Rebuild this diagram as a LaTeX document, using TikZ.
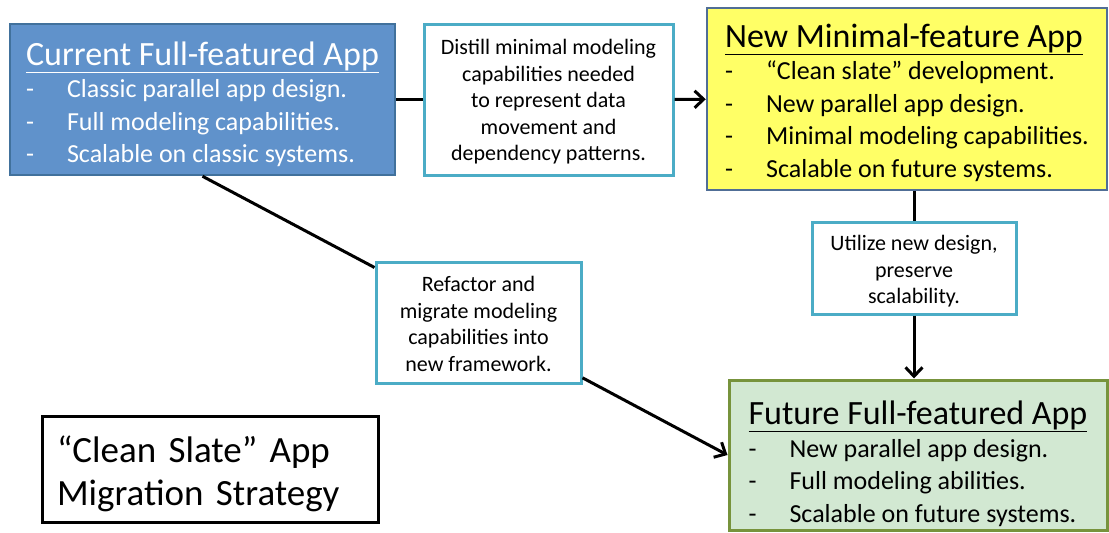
\documentclass[tikz,border=0pt]{standalone}
\usepackage{fontspec}
\setmainfont{Carlito}
\usepackage{tikz}
\usetikzlibrary{arrows.meta, positioning, calc}
\definecolor{currentcolor}{RGB}{96, 146, 203}
\definecolor{currentline}{RGB}{65, 113, 156}
\definecolor{newcolor}{RGB}{255, 255, 102}
\definecolor{newline}{RGB}{80, 110, 150}
\definecolor{futurecolor}{RGB}{210, 232, 210}
\definecolor{futureline}{RGB}{119, 147, 60}
\definecolor{stepline}{RGB}{75, 172, 198}
\newcommand{\dashitem}[1]{\makebox[41pt][l]{-}#1}
% #1: extra room above the title, #2: title text
\newcommand{\apptitle}[2]{{\fontsize{34}{38}\selectfont\rule{0pt}{#1}\underline{#2}}}

\begin{document}
\begin{tikzpicture}[
    x=1pt, y=-1pt,
    appbox/.style={rectangle, line width=2.5pt, align=left, inner sep=0pt,
                   font=\fontsize{26}{32.5}\selectfont},
    stepbox/.style={rectangle, draw=stepline, fill=white, line width=3pt, align=center,
                    inner sep=0pt, font=\fontsize{22}{26.5}\selectfont},
    link/.style={line width=3pt, black},
    linkarrow/.style={link, -{Straight Barb[length=9pt, width=17pt, line width=3pt]}}
]
\useasboundingbox (0,0) rectangle (1109,533);

% App boxes
\node[appbox, fill=currentcolor, draw=currentline, text=white,
      minimum width=385, minimum height=151] (current) at (202.5,99.5)
  {\apptitle{33pt}{Current Full-featured App}\\
   \dashitem{Classic parallel app design.}\\
   \dashitem{Full modeling capabilities.}\\
   \dashitem{Scalable on classic systems.}};

\node[appbox, fill=newcolor, draw=newline,
      minimum width=400, minimum height=182] (new) at (907,99)
  {\apptitle{31pt}{New Minimal-feature App}\\
   \dashitem{``Clean slate'' development.}\\
   \dashitem{New parallel app design.}\\
   \dashitem{Minimal modeling capabilities.}\\
   \dashitem{Scalable on future systems.}};

\node[appbox, fill=futurecolor, draw=futureline, line width=3pt,
      minimum width=378, minimum height=150] (future) at (918,455)
  {\apptitle{41pt}{Future Full-featured App}\\
   \dashitem{New parallel app design.}\\
   \dashitem{Full modeling abilities.}\\
   \dashitem{Scalable on future systems.}};

% Step boxes
\node[stepbox, minimum width=249, minimum height=151] (distill) at (548.5,99.5)
  {\rule{0pt}{20pt}Distill minimal modeling\\ capabilities needed\\ to represent data\\ movement and\\ dependency patterns.};
\node[stepbox, minimum width=204, minimum height=92] (utilize) at (914,268)
  {\rule{0pt}{22pt}Utilize new design,\\ preserve\\ scalability.};
\node[stepbox, minimum width=205, minimum height=121] (refactor) at (478.5,322.5)
  {\rule{0pt}{18pt}Refactor and\\ migrate modeling\\ capabilities into\\ new framework.};

% Title
\node[rectangle, draw=black, line width=3pt, minimum width=336, minimum height=106,
      inner sep=0pt, text width=306pt, align=left, font=\fontsize{37}{43}\selectfont]
      (title) at (210,469)
  {\rule{0pt}{36pt}``Clean Slate'' App\\ Migration Strategy};

% Connectors
\draw[link] (current) -- (distill);
\draw[linkarrow] (distill) -- (new);
\draw[link] (new.south -| utilize.north) -- (utilize);
\draw[linkarrow] (utilize) -- (utilize |- future.north);
\draw[link] (current.south) -- (refactor);
\draw[linkarrow] (refactor) -- (future.west);

\end{tikzpicture}
\end{document}
